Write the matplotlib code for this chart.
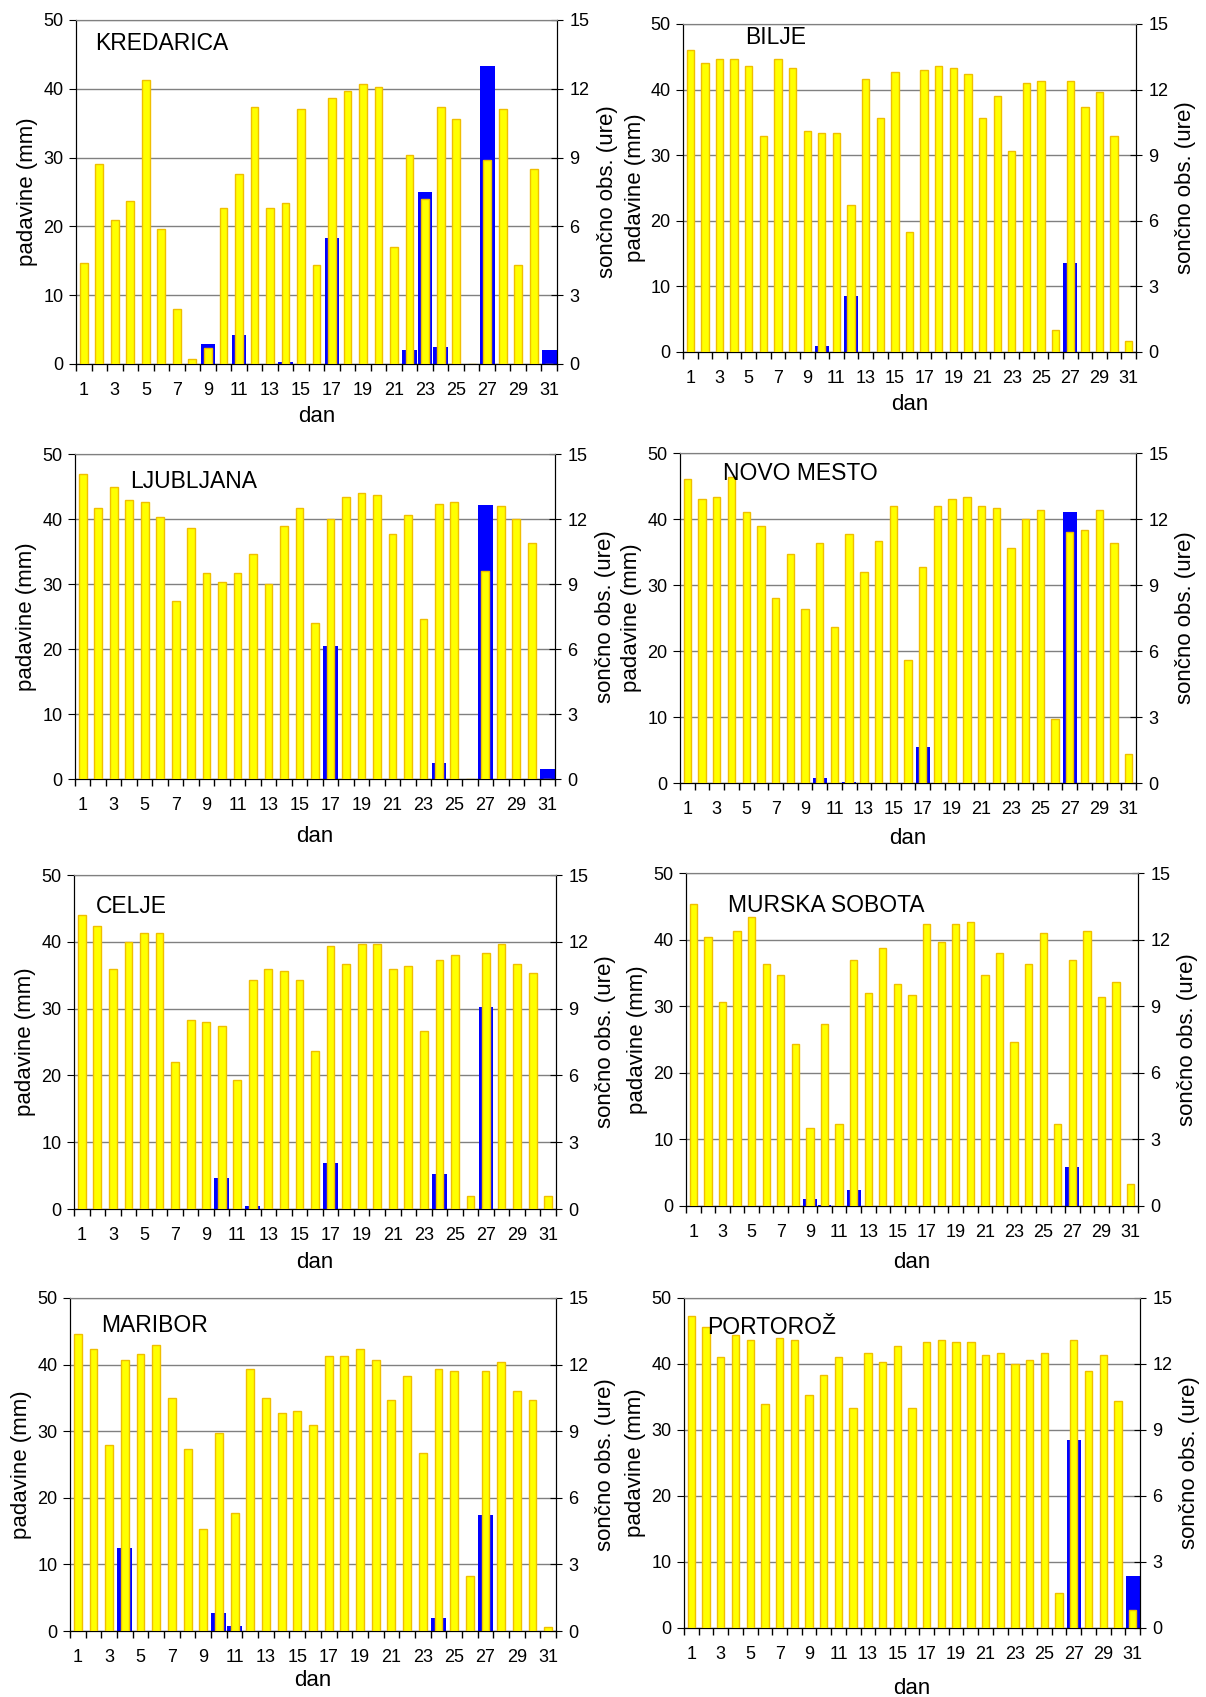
import numpy as np
import matplotlib
matplotlib.use('Agg')
import matplotlib.pyplot as plt

plt.rcParams['font.family'] = ['Liberation Sans', 'DejaVu Sans']

days = np.arange(1, 32)

stations = ['KREDARICA', 'BILJE', 'LJUBLJANA', 'NOVO MESTO',
            'CELJE', 'MURSKA SOBOTA', 'MARIBOR', 'PORTOROŽ']

# daily precipitation (mm)
precip_kredarica = [0, 0, 0, 0, 0, 0, 0, 0, 2.9, 0, 4.2, 0, 0, 0.3, 0, 0,
                    18.3, 0, 0, 0, 0, 2.0, 25.0, 2.4, 0, 0, 43.3, 0, 0, 0, 2.0]
precip_bilje = [0, 0, 0, 0, 0, 0, 0, 0, 0, 0.9, 0, 8.5, 0, 0, 0, 0,
                0, 0, 0, 0, 0, 0, 0, 0, 0, 0, 13.6, 0, 0, 0, 0]
precip_ljubljana = [0, 0, 0, 0, 0, 0, 0, 0, 0, 0, 0, 0, 0, 0, 0, 0,
                    20.4, 0, 0, 0, 0, 0, 0, 2.5, 0, 0, 42.1, 0, 0, 0, 1.5]
precip_novo_mesto = [0, 0, 0, 0, 0, 0, 0, 0, 0, 0.7, 0, 0.2, 0, 0, 0, 0,
                     5.5, 0, 0, 0, 0, 0, 0, 0, 0, 0, 41.1, 0, 0, 0, 0]
precip_celje = [0, 0, 0, 0, 0, 0, 0, 0, 0, 4.6, 0, 0.4, 0, 0, 0, 0,
                6.9, 0, 0, 0, 0, 0, 0, 5.2, 0, 0, 30.2, 0, 0, 0, 0]
precip_murska_sobota = [0, 0, 0, 0, 0, 0, 0, 0, 1.0, 0.2, 0, 2.4, 0, 0, 0, 0,
                        0, 0, 0, 0, 0, 0, 0, 0, 0, 0, 5.9, 0, 0, 0, 0]
precip_maribor = [0, 0, 0, 12.5, 0, 0, 0, 0, 0, 2.7, 0.8, 0, 0, 0, 0, 0,
                  0, 0, 0, 0, 0, 0, 0, 2.0, 0, 0, 17.4, 0, 0, 0, 0]
precip_portoroz = [0, 0, 0, 0, 0, 0, 0, 0, 0, 0, 0, 0, 0, 0, 0, 0,
                   0, 0, 0, 0, 0, 0, 0, 0, 0, 0, 28.5, 0, 0, 0, 7.9]

# daily sunshine duration (hours)
sun_kredarica = [4.4, 8.7, 6.3, 7.1, 12.4, 5.9, 2.4, 0.2, 0.7, 6.8, 8.3, 11.2, 6.8, 7.0, 11.1, 4.3,
                 11.6, 11.9, 12.2, 12.1, 5.1, 9.1, 7.2, 11.2, 10.7, 0, 8.9, 11.1, 4.3, 8.5, 0]
sun_bilje = [13.8, 13.2, 13.4, 13.4, 13.1, 9.9, 13.4, 13.0, 10.1, 10.0, 10.0, 6.7, 12.5, 10.7, 12.8, 5.5,
             12.9, 13.1, 13.0, 12.7, 10.7, 11.7, 9.2, 12.3, 12.4, 1.0, 12.4, 11.2, 11.9, 9.9, 0.5]
sun_ljubljana = [14.1, 12.5, 13.5, 12.9, 12.8, 12.1, 8.2, 11.6, 9.5, 9.1, 9.5, 10.4, 9.0, 11.7, 12.5, 7.2,
                 12.0, 13.0, 13.2, 13.1, 11.3, 12.2, 7.4, 12.7, 12.8, 0, 9.6, 12.6, 12.0, 10.9, 0]
sun_novo_mesto = [13.8, 12.9, 13.0, 13.9, 12.3, 11.7, 8.4, 10.4, 7.9, 10.9, 7.1, 11.3, 9.6, 11.0, 12.6, 5.6,
                  9.8, 12.6, 12.9, 13.0, 12.6, 12.5, 10.7, 12.0, 12.4, 2.9, 11.4, 11.5, 12.4, 10.9, 1.3]
sun_celje = [13.2, 12.7, 10.8, 12.0, 12.4, 12.4, 6.6, 8.5, 8.4, 8.2, 5.8, 10.3, 10.8, 10.7, 10.3, 7.1,
             11.8, 11.0, 11.9, 11.9, 10.8, 10.9, 8.0, 11.2, 11.4, 0.6, 11.5, 11.9, 11.0, 10.6, 0.6]
sun_murska_sobota = [13.6, 12.1, 9.2, 12.4, 13.0, 10.9, 10.4, 7.3, 3.5, 8.2, 3.7, 11.1, 9.6, 11.6, 10.0, 9.5,
                     12.7, 11.9, 12.7, 12.8, 10.4, 11.4, 7.4, 10.9, 12.3, 3.7, 11.1, 12.4, 9.4, 10.1, 1.0]
sun_maribor = [13.4, 12.7, 8.4, 12.2, 12.5, 12.9, 10.5, 8.2, 4.6, 8.9, 5.3, 11.8, 10.5, 9.8, 9.9, 9.3,
               12.4, 12.4, 12.7, 12.2, 10.4, 11.5, 8.0, 11.8, 11.7, 2.5, 11.7, 12.1, 10.8, 10.4, 0.2]
sun_portoroz = [14.2, 13.7, 12.3, 13.3, 13.1, 10.2, 13.2, 13.1, 10.6, 11.5, 12.3, 10.0, 12.5, 12.1, 12.8, 10.0,
                13.0, 13.1, 13.0, 13.0, 12.4, 12.5, 12.0, 12.2, 12.5, 1.6, 13.1, 11.7, 12.4, 10.3, 0.8]

precip = [precip_kredarica, precip_bilje, precip_ljubljana, precip_novo_mesto,
          precip_celje, precip_murska_sobota, precip_maribor, precip_portoroz]
sun = [sun_kredarica, sun_bilje, sun_ljubljana, sun_novo_mesto,
       sun_celje, sun_murska_sobota, sun_maribor, sun_portoroz]

W, H = 1206, 1697
# axes boxes in pixels: left, right, top, bottom
boxes = [(76, 557, 20, 364), (683, 1136, 24, 352),
         (75, 555, 454, 779), (680, 1136, 453, 783),
         (74, 556, 875, 1209), (686, 1138, 873, 1206),
         (70, 556, 1298, 1631), (684, 1140, 1298, 1628)]
# station name offset from axes top-left (px)
name_off = [(19, 24), (62, 14), (55, 27), (43, 20), (22, 32), (42, 32), (31, 28), (23, 30)]
dan_off = [53, 52, 58, 55, 53, 57, 49, 60]

fig = plt.figure(figsize=(W / 100, H / 100), dpi=100)

for i in range(8):
    L, R, T, B = boxes[i]
    ax = fig.add_axes([L / W, 1 - B / H, (R - L) / W, (B - T) / H])
    ax.bar(days, precip[i], width=0.95, color='#0000ff', zorder=2)
    ax.set_xlim(0.5, 31.5)
    ax.set_ylim(0, 50)
    ax.set_yticks([0, 10, 20, 30, 40, 50])
    ax.set_axisbelow(True)
    ax.yaxis.grid(True, color='#808080', linewidth=1)
    ax.set_xticks(np.arange(0.5, 32.0, 1.0))
    ax.set_xticklabels([])
    ax.set_xticks(days[::2], minor=True)
    ax.set_xticklabels([str(d) for d in days[::2]], minor=True)
    ax.tick_params(axis='x', which='major', length=5, direction='out', width=1)
    ax.tick_params(axis='x', which='minor', length=0, pad=13, labelsize=13)
    ax.tick_params(axis='y', length=5, direction='out', labelsize=13, pad=4)

    ax2 = ax.twinx()
    ax2.bar(days, sun[i], width=0.5, color='#ffff00', edgecolor='#f0bf00',
            linewidth=1, zorder=3)
    ax2.set_ylim(0, 15)
    ax2.set_yticks([0, 3, 6, 9, 12, 15])
    ax2.tick_params(axis='y', length=8, direction='inout', labelsize=13, pad=5)

    for a in (ax, ax2):
        a.spines['top'].set_color('#808080')
        a.spines['left'].set_color('black')
        a.spines['right'].set_color('black')
        a.spines['bottom'].set_color('black')

    cy = 1 - (T + B) / 2 / H
    fig.text((L - 48) / W, cy, 'padavine (mm)', rotation=90, ha='center', va='center', fontsize=16)
    fig.text((R + 50) / W, cy, 'sončno obs. (ure)', rotation=90, ha='center', va='center', fontsize=16)
    fig.text((L + R) / 2 / W, 1 - (B + dan_off[i]) / H, 'dan', ha='center', va='center', fontsize=16)
    fig.text((L + name_off[i][0]) / W, 1 - (T + name_off[i][1]) / H, stations[i],
             ha='left', va='center', fontsize=16.5)

plt.savefig('out.png', dpi=100)
